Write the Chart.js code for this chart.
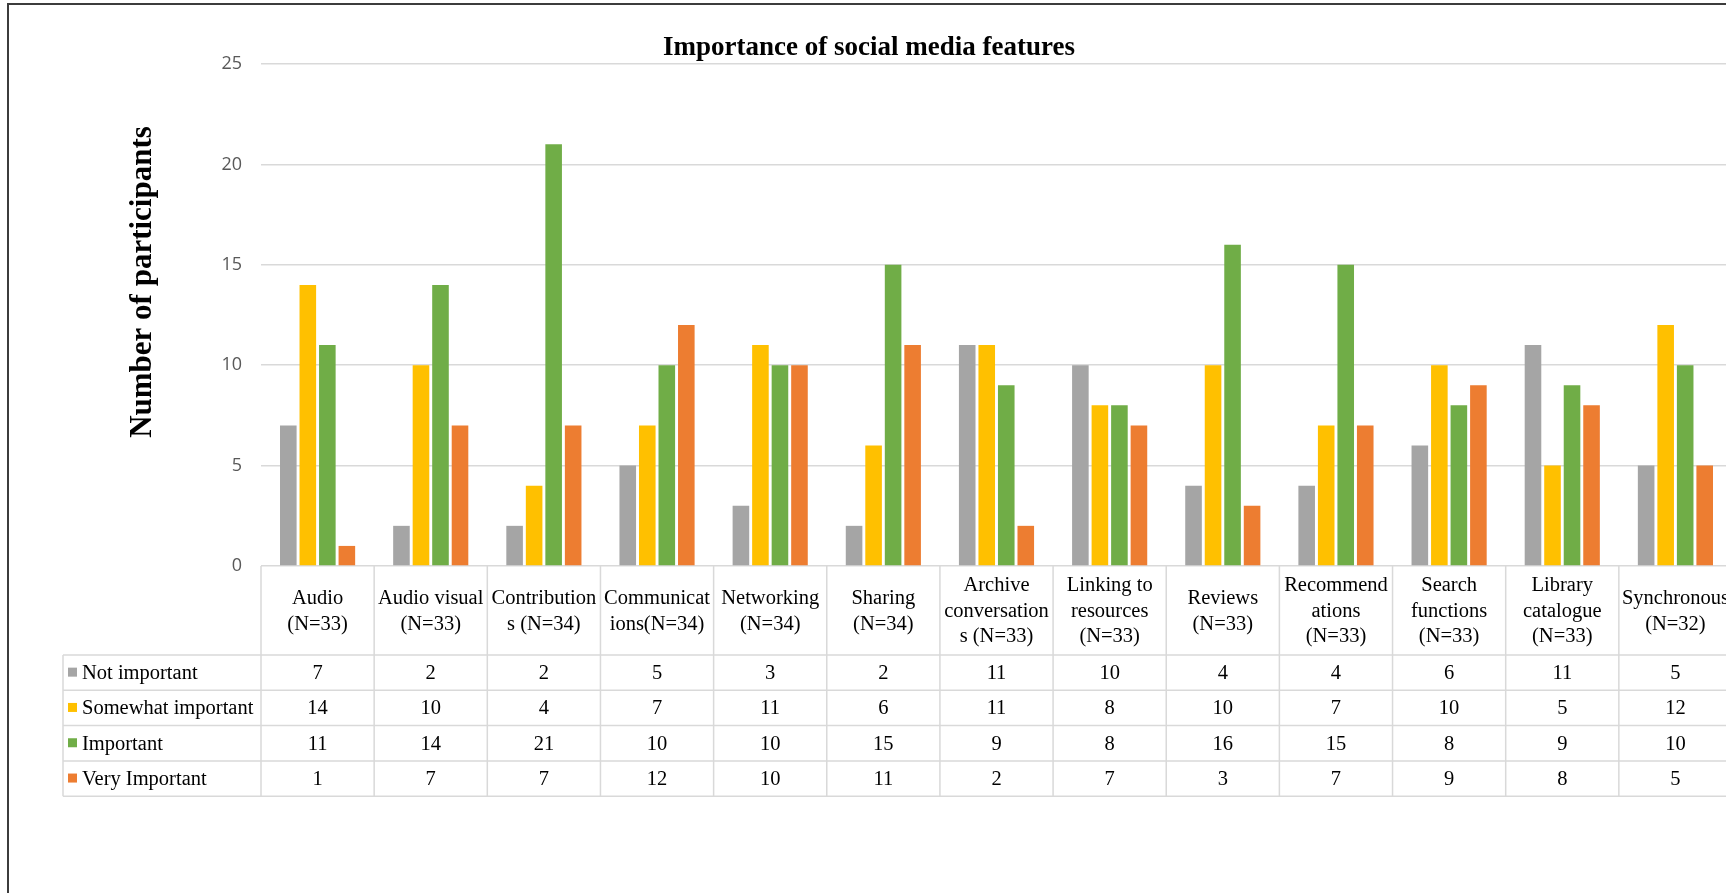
<!DOCTYPE html>
<html lang="en">
<head>
<meta charset="UTF-8">
<title>Importance of social media features</title>
<script src="https://cdn.jsdelivr.net/npm/chart.js"></script>
<style>
  html, body { margin: 0; padding: 0; background: #fff; overflow: hidden; }
  #frame { position: absolute; left: 7px; top: 3px; width: 2000px; height: 1000px;
           border-left: 2px solid #3c3c3c; border-top: 2px solid #3c3c3c; }
  #chart { position: absolute; left: 0; top: 0; }
</style>
</head>
<body>
<div id="frame"></div>
<canvas id="chart" width="1760" height="893"></canvas>
<script>
// categories as they wrap in the table header
const categories = [
  'Audio\n(N=33)', 'Audio visual\n(N=33)', 'Contribution\ns (N=34)', 'Communicat\nions(N=34)',
  'Networking\n(N=34)', 'Sharing\n(N=34)', 'Archive\nconversation\ns (N=33)',
  'Linking to\nresources\n(N=33)', 'Reviews\n(N=33)', 'Recommend\nations\n(N=33)',
  'Search\nfunctions\n(N=33)', 'Library\ncatalogue\n(N=33)', 'Synchronous\n(N=32)'
];
const seriesNames = ['Not important', 'Somewhat important', 'Important', 'Very Important'];
const notImportant      = [7, 2, 2, 5, 3, 2, 11, 10, 4, 4, 6, 11, 5];
const somewhatImportant = [14, 10, 4, 7, 11, 6, 11, 8, 10, 7, 10, 5, 12];
const important         = [11, 14, 21, 10, 10, 15, 9, 8, 16, 15, 8, 9, 10];
const veryImportant     = [1, 7, 7, 12, 10, 11, 2, 7, 3, 7, 9, 8, 5];
const yMin = 0, yMax = 25, yStep = 5;

const colors = ['#a5a5a5', '#ffc000', '#70ad47', '#ed7d31'];
const seriesData = [notImportant, somewhatImportant, important, veryImportant];

const serif = '"Liberation Serif", "Times New Roman", serif';

// draws chart title, y title and the data table under the plot
const tablePlugin = {
  id: 'dataTable',
  afterDraw(chart) {
    const ctx = chart.ctx;
    const area = chart.chartArea;
    const xs = chart.scales.x;
    const n = categories.length;
    const colW = (area.right - area.left) / n;
    const headTop = area.bottom;
    const headBottom = 655;
    const rowH = 35.3;
    const legendLeft = 63;
    const tableBottom = headBottom + rowH * seriesNames.length;

    ctx.save();
    // grid lines of the table
    ctx.strokeStyle = '#d9d9d9';
    ctx.lineWidth = 1.5;
    ctx.beginPath();
    for (let k = 0; k <= n; k++) {
      const x = area.left + k * colW;
      ctx.moveTo(x, headTop);
      ctx.lineTo(x, tableBottom);
    }
    ctx.moveTo(legendLeft, headBottom);
    ctx.lineTo(legendLeft, tableBottom);
    for (let r = 0; r <= seriesNames.length; r++) {
      const y = headBottom + r * rowH;
      ctx.moveTo(legendLeft, y);
      ctx.lineTo(area.right, y);
    }
    ctx.stroke();

    // header
    ctx.fillStyle = '#000';
    ctx.font = '20.5px ' + serif;
    ctx.textAlign = 'center';
    ctx.textBaseline = 'middle';
    const lh = 25.5;
    const headMid = (headTop + headBottom) / 2;
    categories.forEach((c, i) => {
      const lines = c.split('\n');
      const x = xs.getPixelForValue(i);
      lines.forEach((t, j) => {
        ctx.fillText(t, x, headMid + (j - (lines.length - 1) / 2) * lh + 1);
      });
    });

    // rows
    seriesNames.forEach((name, r) => {
      const yc = headBottom + r * rowH + rowH / 2;
      ctx.fillStyle = colors[r];
      ctx.fillRect(legendLeft + 5, yc - 5, 9, 9);
      ctx.fillStyle = '#000';
      ctx.textAlign = 'left';
      ctx.fillText(name, legendLeft + 19, yc + 1);
      ctx.textAlign = 'center';
      seriesData[r].forEach((v, i) => {
        ctx.fillText(String(v), xs.getPixelForValue(i), yc + 1);
      });
    });

    // chart title
    ctx.font = 'bold 27px ' + serif;
    ctx.textBaseline = 'alphabetic';
    ctx.fillText('Importance of social media features', 869, 55);

    // y axis title
    ctx.translate(143, 282);
    ctx.rotate(-Math.PI / 2);
    ctx.font = 'bold 31px ' + serif;
    ctx.textBaseline = 'middle';
    ctx.fillText('Number of participants', 0, 0);
    ctx.restore();
  }
};

new Chart(document.getElementById('chart'), {
  type: 'bar',
  data: {
    labels: categories,
    datasets: seriesNames.map((name, i) => ({
      label: name,
      data: seriesData[i],
      backgroundColor: colors[i],
      categoryPercentage: 0.69,
      barPercentage: 0.85
    }))
  },
  options: {
    responsive: false,
    animation: false,
    layout: { padding: { top: 64, bottom: 327, left: 0, right: 28 } },
    plugins: {
      legend: { display: false },
      title: { display: false },
      tooltip: { enabled: false }
    },
    scales: {
      x: { display: false },
      y: {
        min: yMin,
        max: yMax,
        ticks: {
          stepSize: yStep,
          padding: 19,
          color: '#595959',
          font: { family: '"Open Sans", sans-serif', size: 18 }
        },
        grid: { color: '#d9d9d9', lineWidth: 1.5, drawTicks: false },
        border: { display: false },
        afterFit(scale) { scale.width = 261; }
      }
    }
  },
  plugins: [tablePlugin]
});
</script>
</body>
</html>
